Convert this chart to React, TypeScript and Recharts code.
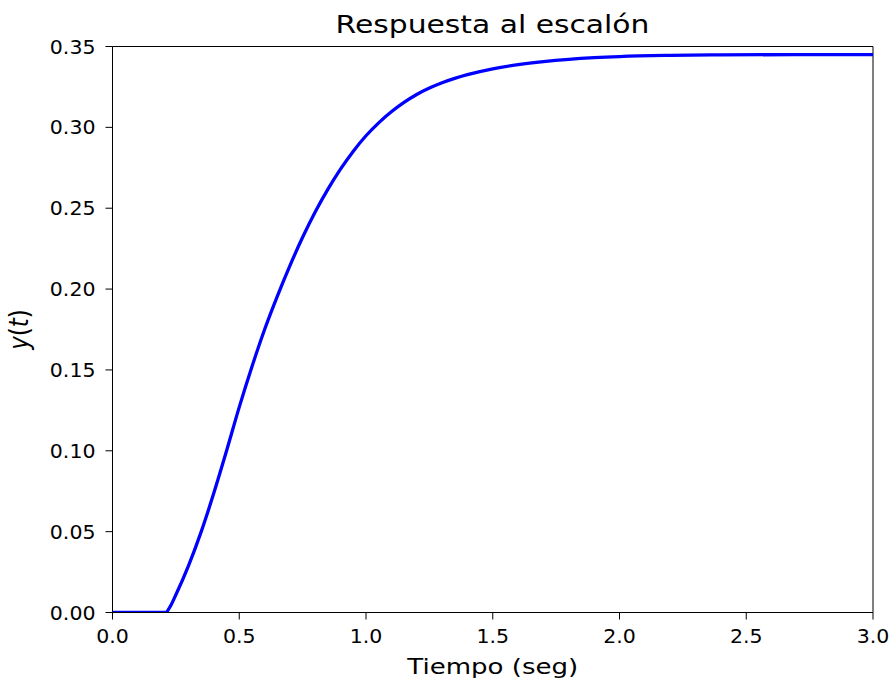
import { LineChart, Line, XAxis, YAxis, Label, ReferenceLine } from 'recharts';

const times = [0, 0.1, 0.2, 0.21, 0.225, 0.25, 0.3, 0.35, 0.4, 0.45, 0.5, 0.55, 0.6, 0.65, 0.7, 0.75, 0.8, 0.85, 0.9, 0.95, 1.0, 1.05, 1.1, 1.15, 1.2, 1.25, 1.3, 1.35, 1.4, 1.5, 1.6, 1.7, 1.8, 1.9, 2.0, 2.2, 2.4, 2.7, 3.0];
const response = [0, 0, 0, 0, 0.003, 0.011, 0.029, 0.05, 0.074, 0.1, 0.127, 0.152, 0.175, 0.1955, 0.2145, 0.232, 0.2478, 0.2618, 0.2743, 0.2853, 0.2948, 0.3028, 0.3096, 0.3154, 0.3203, 0.3243, 0.3276, 0.3303, 0.3326, 0.3362, 0.3388, 0.3407, 0.3421, 0.3431, 0.3438, 0.3445, 0.3448, 0.345, 0.345];

const xTicks = [0, 0.5, 1.0, 1.5, 2.0, 2.5, 3.0];
const yTicks = [0, 0.05, 0.1, 0.15, 0.2, 0.25, 0.3, 0.35];

const data = times.map((t, i) => ({ t, y: response[i] }));

const font = '"DejaVu Sans", sans-serif';
const SX = 1.24; // titles in the reference are a bit wider than tall
const TICK_SX = 1.08;

const XTick = (props: any) => {
  const { x, y, payload } = props;
  return (
    <text transform={`translate(${x},${y}) scale(${TICK_SX},1)`} textAnchor="middle" fontFamily={font} fontSize={19} fill="#000" dy={22}>
      {Number(payload.value).toFixed(1)}
    </text>
  );
};

const YTick = (props: any) => {
  const { x, y, payload } = props;
  return (
    <text transform={`translate(${x},${y}) scale(${TICK_SX},1)`} textAnchor="end" fontFamily={font} fontSize={19} fill="#000" dy={7}>
      {Number(payload.value).toFixed(2)}
    </text>
  );
};

export default function App() {
  return (
    <div style={{ position: 'absolute', left: 0, top: 0, width: 893, height: 684, background: '#fff' }}>
      <div
        style={{
          position: 'absolute',
          left: 112,
          width: 761,
          top: 11,
          lineHeight: '28px',
          textAlign: 'center',
          fontFamily: font,
          fontSize: 24,
          color: '#000',
          transform: `scaleX(${SX})`,
          transformOrigin: 'center',
        }}
      >
        Respuesta al escalón
      </div>
      <LineChart width={893} height={684} data={data} margin={{ top: 46.5, right: 20, bottom: 0, left: 0 }}>
        <XAxis
          dataKey="t"
          type="number"
          domain={[0, 3]}
          ticks={xTicks}
          tick={<XTick />}
          tickSize={7}
          tickMargin={2}
          stroke="#000"
          height={71.5}
          allowDataOverflow
        >
          <Label
            content={({ viewBox }: any) => (
              <text
                transform={`translate(${viewBox.x + viewBox.width / 2},${viewBox.y + 61}) scale(${SX},1)`}
                textAnchor="middle"
                fontFamily={font}
                fontSize={21}
                fill="#000"
              >
                Tiempo (seg)
              </text>
            )}
          />
        </XAxis>
        <YAxis
          type="number"
          domain={[0, 0.35]}
          ticks={yTicks}
          tick={<YTick />}
          tickSize={7}
          tickMargin={10}
          stroke="#000"
          width={112.5}
          allowDataOverflow
        >
          <Label
            content={({ viewBox }: any) => (
              <text
                transform={`translate(28,${viewBox.y + viewBox.height / 2}) scale(1.12,1) rotate(-90)`}
                textAnchor="middle"
                fontFamily={font}
                fontSize={23}
                fill="#000"
              >
                <tspan fontStyle="italic">y</tspan>
                <tspan>(</tspan>
                <tspan fontStyle="italic">t</tspan>
                <tspan>)</tspan>
              </text>
            )}
          />
        </YAxis>
        <ReferenceLine x={3} stroke="#000" strokeWidth={1} />
        <ReferenceLine y={0.35} stroke="#000" strokeWidth={1} />
        <Line
          type="monotone"
          dataKey="y"
          stroke="#0000ff"
          strokeWidth={3.3}
          dot={false}
          isAnimationActive={false}
        />
      </LineChart>
    </div>
  );
}
